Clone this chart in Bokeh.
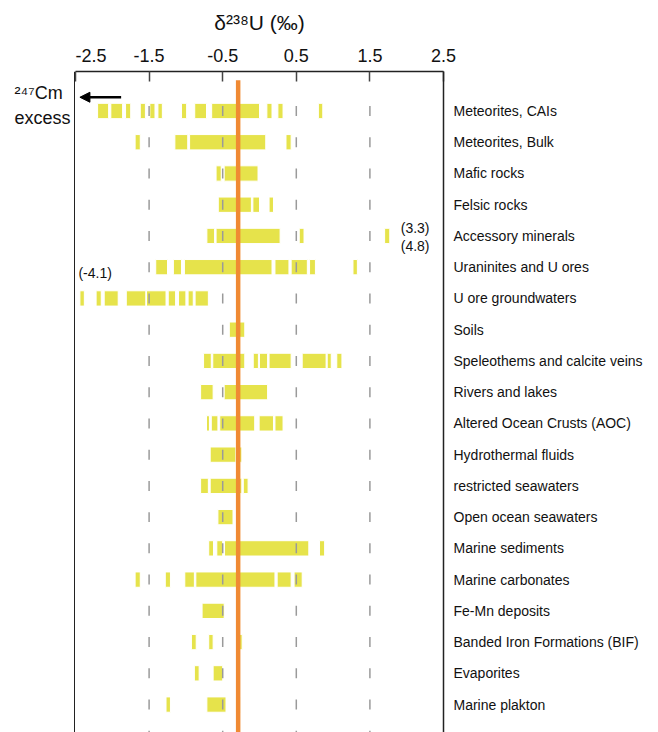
from bokeh.plotting import figure
from bokeh.layouts import row
from bokeh.models import (Range1d, FixedTicker, Label, Arrow, NormalHead)
from bokeh.core.properties import value
from bokeh.embed import file_html
from bokeh.resources import INLINE

FONT = "Liberation Sans"

categories = [
    "Meteorites, CAIs", "Meteorites, Bulk", "Mafic rocks", "Felsic rocks",
    "Accessory minerals", "Uraninites and U ores", "U ore groundwaters", "Soils",
    "Speleothems and calcite veins", "Rivers and lakes", "Altered Ocean Crusts (AOC)",
    "Hydrothermal fluids", "restricted seawaters", "Open ocean seawaters",
    "Marine sediments", "Marine carbonates", "Fe-Mn deposits",
    "Banded Iron Formations (BIF)", "Evaporites", "Marine plakton",
]

# delta238U ranges (permil) per reservoir
cais = [(-2.20, -2.05), (-2.02, -1.86), (-1.82, -1.75), (-1.62, -1.55), (-1.49, -1.42),
        (-1.38, -1.32), (-1.06, -0.99), (-0.88, -0.72), (-0.65, 0.00), (0.10, 0.17),
        (0.25, 0.32), (0.80, 0.86)]
bulk = [(-1.69, -1.62), (-1.15, -0.975), (-0.95, 0.085), (0.36, 0.43)]
mafic = [(-0.59, -0.52), (-0.48, -0.02)]
felsic = [(-0.56, -0.11), (-0.09, 0.00), (0.13, 0.19)]
accessory = [(-0.715, -0.61), (-0.59, 0.28), (0.54, 0.605), (1.70, 1.77)]
uraninites = [(-1.41, -1.25), (-1.17, -1.06), (-1.02, 0.17), (0.21, 0.40), (0.43, 0.65),
              (0.68, 0.76), (1.27, 1.33)]
ore_gw = [(-2.44, -2.38), (-2.22, -2.15), (-2.11, -1.92), (-1.81, -1.545), (-1.535, -1.27),
          (-1.24, -1.14), (-1.10, -1.00), (-0.97, -0.90), (-0.875, -0.695)]
soils = [(-0.41, -0.20)]
speleothems = [(-0.76, -0.655), (-0.635, -0.20), (-0.085, -0.015), (0.00, 0.11),
               (0.13, 0.43), (0.58, 0.905), (0.92, 0.975), (1.05, 1.12)]
rivers = [(-0.80, -0.63), (-0.48, 0.11)]
aoc = [(-0.72, -0.68), (-0.655, -0.565), (-0.54, -0.065), (-0.005, 0.19), (0.21, 0.32)]
hydrothermal = [(-0.67, -0.32), (-0.315, -0.24)]
restricted = [(-0.80, -0.695), (-0.67, -0.24), (-0.22, -0.155)]
open_ocean = [(-0.565, -0.36)]
marine_sed = [(-0.69, -0.625), (-0.58, -0.50), (-0.475, 0.67), (0.815, 0.885)]
marine_carb = [(-1.69, -1.62), (-1.28, -1.21), (-1.015, -0.885), (-0.865, 0.21),
               (0.24, 0.43), (0.47, 0.58)]
femn = [(-0.78, -0.48)]
bif = [(-0.925, -0.86), (-0.69, -0.63), (-0.30, -0.235)]
evaporites = [(-0.885, -0.82), (-0.63, -0.50)]
plankton = [(-1.27, -1.21), (-0.715, -0.455), (-0.32, -0.26)]

rows = [cais, bulk, mafic, felsic, accessory, uraninites, ore_gw, soils, speleothems,
        rivers, aoc, hydrothermal, restricted, open_ocean, marine_sed, marine_carb,
        femn, bif, evaporites, plankton]

x_ticks = [-2.5, -1.5, -0.5, 0.5, 1.5, 2.5]
tick_labels = ["-2.5", "-1.5", "-0.5", "0.5", "1.5", "2.5"]
dash_ticks = [-1.5, -0.5, 0.5, 1.5]
bulk_earth = -0.29  # orange reference line

Y_TOP, Y_BOT = -1.264, 19.894
yr = Range1d(Y_BOT, Y_TOP)
LEFT_W = 75

# ---------- left strip (text outside the frame + left frame line) ----------
lf = figure(width=LEFT_W, height=732, output_backend="svg", toolbar_location=None,
            x_range=Range1d(0, LEFT_W), y_range=yr,
            x_axis_location=None, y_axis_location=None,
            min_border_left=0, min_border_right=0, min_border_top=71, min_border_bottom=0)
lf.outline_line_color = None
lf.xgrid.visible = False
lf.ygrid.visible = False
lf.text(x=[14, 14], y=[-0.59, 0.21], text=["²⁴⁷Cm", "excess"],
        text_font=value(FONT), text_font_size="18px", text_color="#111111",
        text_align="left", text_baseline="alphabetic")
# top part of the strip lies above the frame; draw the frame's left edge here
lf.segment(x0=[LEFT_W - 0.75], y0=[Y_TOP], x1=[LEFT_W - 0.75], y1=[Y_BOT + 1],
           line_color="#222222", line_width=1.5)

# ---------- main plot ----------
MAIN_W = 658 - LEFT_W
p = figure(width=MAIN_W, height=732, output_backend="svg", toolbar_location=None,
           x_range=Range1d(-2.5, 2.5), y_range=yr,
           x_axis_location="above", y_axis_location="right",
           min_border_left=0, min_border_right=MAIN_W - 368, min_border_top=71,
           min_border_bottom=0)
p.outline_line_color = None
p.xgrid.visible = False
p.ygrid.visible = False

# bars
left, right, top, bottom = [], [], [], []
for i, segs in enumerate(rows):
    for a, b in segs:
        left.append(a); right.append(b)
        top.append(i - 0.245); bottom.append(i + 0.245)
p.quad(left=left, right=right, top=top, bottom=bottom,
       fill_color="#E6E34B", line_color="white", line_width=1)

# dashed gray guides at ticks
x0, y0, y1 = [], [], []
for i in range(len(rows) + 1):
    for t in dash_ticks:
        x0.append(t); y0.append(i - 0.16); y1.append(i + 0.16)
p.segment(x0=x0, y0=y0, x1=x0, y1=y1, line_color="#9a9a9a", line_width=1.5)

# orange line
p.segment(x0=[bulk_earth], y0=[-0.98], x1=[bulk_earth], y1=[len(rows) + 1],
          line_color="#F08A33", line_width=4.5)

# top axis
xa = p.xaxis[0]
xa.ticker = FixedTicker(ticks=x_ticks)
xa.major_label_overrides = {t: l for t, l in zip(x_ticks, tick_labels)}
xa.major_tick_in = 10
xa.major_tick_out = 0
xa.minor_tick_in = 0
xa.minor_tick_out = 0
xa.major_tick_line_color = "#444444"
xa.major_tick_line_width = 1.5
xa.axis_line_width = 1.5
xa.axis_line_color = "#222222"
xa.major_label_text_font = FONT
xa.major_label_text_font_size = "18px"
xa.major_label_text_color = "#111111"
xa.major_label_standoff = 10
xa.axis_label = "δ²³⁸U (‰)"
xa.axis_label_text_font = FONT
xa.axis_label_text_font_style = "normal"
xa.axis_label_text_font_size = "21px"
xa.axis_label_text_color = "#111111"
xa.axis_label_standoff = 12

# right axis with category labels
ya = p.yaxis[0]
ya.ticker = FixedTicker(ticks=list(range(len(categories))))
ya.major_label_overrides = {i: c for i, c in enumerate(categories)}
ya.major_tick_in = 0
ya.major_tick_out = 0
ya.minor_tick_in = 0
ya.minor_tick_out = 0
ya.axis_line_width = 1.5
ya.axis_line_color = "#222222"
ya.major_label_text_font = FONT
ya.major_label_text_font_size = "14px"
ya.major_label_text_color = "#111111"
ya.major_label_standoff = 10

# annotations inside the frame
def lab(x, y, text, size="14px", align="left", baseline="middle"):
    p.add_layout(Label(x=x, y=y, text=text, text_font=FONT, text_font_size=size,
                       text_align=align, text_baseline=baseline, text_color="#111111"))

lab(-2.46, 5.17, "(-4.1)")
lab(2.31, 3.73, "(3.3)", align="right")
lab(2.31, 4.31, "(4.8)", align="right")

p.add_layout(Arrow(end=NormalHead(size=10, fill_color="black", line_color="black"),
                   x_start=-1.88, y_start=-0.44, x_end=-2.44, y_end=-0.44,
                   line_width=2.5, line_color="black"))

layout = row(lf, p, spacing=0)
open("out.html", "w").write(file_html(layout, INLINE))
